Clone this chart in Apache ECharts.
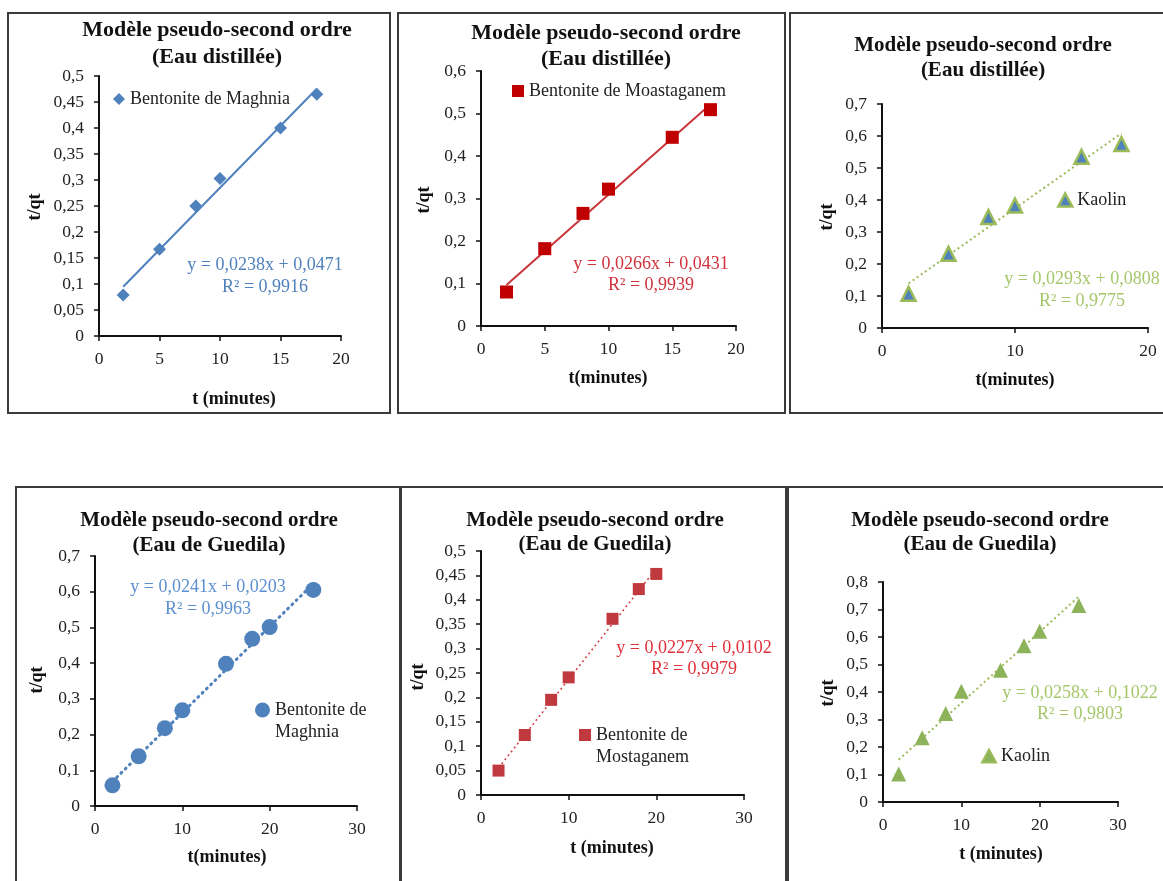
<!DOCTYPE html>
<html>
<head>
<meta charset="utf-8">
<title>Modèle pseudo-second ordre</title>
<script src="https://cdn.jsdelivr.net/npm/echarts@6/dist/echarts.min.js"></script>
<style>
  html, body { margin: 0; padding: 0; background: #ffffff; }
  #chart { width: 1163px; height: 881px; }
</style>
</head>
<body>
<div id="chart"></div>
<script>
// ---- Data: t (minutes) and t/qt for each adsorbent ----
const tDistillee = [2, 5, 8, 10, 15, 18];
const maghniaDistillee = [0.079, 0.167, 0.25, 0.303, 0.4, 0.465];
const mostaganemDistillee = [0.08, 0.182, 0.265, 0.322, 0.444, 0.509];
const kaolinDistillee = [0.107, 0.232, 0.347, 0.383, 0.535, 0.575];

const tGuedila = [2, 5, 8, 10, 15, 18, 20, 25];
const maghniaGuedila = [0.058, 0.139, 0.218, 0.268, 0.398, 0.468, 0.501, 0.605];
const tGuedilaMostaganem = [2, 5, 8, 10, 15, 18, 20];
const mostaganemGuedila = [0.05, 0.123, 0.195, 0.241, 0.361, 0.422, 0.453];
const kaolinGuedila = [0.102, 0.234, 0.322, 0.403, 0.479, 0.568, 0.621, 0.715];

// Linear fits (slope, intercept, R²) in panel order
const slopes = [0.0238, 0.0266, 0.0293, 0.0241, 0.0227, 0.0258];
const intercepts = [0.0471, 0.0431, 0.0808, 0.0203, 0.0102, 0.1022];
const rSquared = [0.9916, 0.9939, 0.9775, 0.9963, 0.9979, 0.9803];

// Titles, legend names and axis titles
const titleLine1 = 'Modèle pseudo-second ordre';
const waterNames = ['(Eau distillée)', '(Eau distillée)', '(Eau distillée)',
                    '(Eau de Guedila)', '(Eau de Guedila)', '(Eau de Guedila)'];
const seriesNames = ['Bentonite de Maghnia', 'Bentonite de Moastaganem', 'Kaolin',
                     'Bentonite de Maghnia', 'Bentonite de Mostaganem', 'Kaolin'];
const xTitles = ['t (minutes)', 't(minutes)', 't(minutes)', 't(minutes)', 't (minutes)', 't (minutes)'];
const yTitle = 't/qt';

// Axis ranges
const xMaxes = [20, 20, 20, 30, 30, 30];
const xSteps = [5, 5, 10, 10, 10, 10];
const yMaxes = [0.5, 0.6, 0.7, 0.7, 0.5, 0.8];
const ySteps = [0.05, 0.1, 0.1, 0.1, 0.05, 0.1];

const xValues = [tDistillee, tDistillee, tDistillee, tGuedila, tGuedilaMostaganem, tGuedila];
const yValues = [maghniaDistillee, mostaganemDistillee, kaolinDistillee,
                 maghniaGuedila, mostaganemGuedila, kaolinGuedila];

// ---- Layout and styling of the six panels ----
const SERIF = '"Liberation Serif", "Times New Roman", serif';
const BLUE = '#4F81BD', RED = '#C00000', GREEN = '#9BBB59';

const panels = [
  { box: [8, 13, 382, 400], grid: [99, 76, 242, 260], title: [217, 30, 57], tsize: 22,
    xt: [234, 399], yt: [35, 207], eq: [265, 265, 287], eqColor: '#4F81BD',
    leg: [113, 88], symbol: 'diamond', size: 13, icon: [12, 12],
    mark: { color: BLUE }, line: { color: BLUE, width: 2, type: 'solid' } },
  { box: [398, 13, 387, 400], grid: [481, 71, 255, 255], title: [606, 33, 59], tsize: 22,
    xt: [608, 378], yt: [424, 200], eq: [651, 264, 285], eqColor: '#D0313C',
    leg: [512, 80], symbol: 'rect', size: 13, icon: [12, 12],
    mark: { color: RED }, line: { color: '#C8353A', width: 2, type: 'solid' } },
  { box: [790, 13, 390, 400], grid: [882, 104, 266, 224], title: [983, 46, 71], tsize: 21,
    xt: [1015, 380], yt: [827, 217], eq: [1082, 279, 301], eqColor: '#A5C76A',
    leg: [1057, 189], symbol: 'triangle', size: 14, icon: [14, 13],
    mark: { color: BLUE, borderColor: GREEN, borderWidth: 2.5 },
    line: { color: GREEN, width: 2, type: [2, 3] } },
  { box: [16, 487, 384, 420], grid: [95, 556, 262, 250], title: [209, 521, 546], tsize: 21,
    xt: [227, 857], yt: [37, 680], eq: [208, 587, 609], eqColor: '#5B8FD0',
    leg: [255, 677], symbol: 'circle', size: 16, icon: [15, 15], twoLines: true,
    mark: { color: BLUE }, line: { color: BLUE, width: 3, type: [1, 5], cap: 'round' } },
  { box: [401, 487, 385, 420], grid: [481, 551, 263, 244], title: [595, 521, 545], tsize: 21,
    xt: [612, 848], yt: [418, 677], eq: [694, 648, 669], eqColor: '#E0303A',
    leg: [579, 702], symbol: 'rect', size: 12, icon: [12, 12], twoLines: true,
    mark: { color: '#C0393F' }, line: { color: '#D0393F', width: 1.5, type: [2, 3] } },
  { box: [788, 487, 390, 420], grid: [883, 582, 235, 220], title: [980, 521, 545], tsize: 21,
    xt: [1001, 854], yt: [828, 693], eq: [1080, 693, 714], eqColor: '#A5C76A',
    leg: [981, 745], symbol: 'triangle', size: 15, icon: [14, 13],
    mark: { color: '#8DB35A' }, line: { color: GREEN, width: 2, type: [2, 3] } }
];

const fmtComma = (v) => String(Math.round(v * 10000) / 10000).replace('.', ',');

const grids = [], xAxes = [], yAxes = [], series = [], legends = [], graphics = [];

panels.forEach((p, i) => {
  grids.push({ left: p.grid[0], top: p.grid[1], width: p.grid[2], height: p.grid[3] });

  const axisLine = { show: true, onZero: false, lineStyle: { color: '#111', width: 2 } };
  const axisTick = { show: true, inside: false, length: 5, lineStyle: { color: '#111', width: 1.5 } };
  xAxes.push({
    type: 'value', gridIndex: i, min: 0, max: xMaxes[i], interval: xSteps[i],
    axisLine, axisTick, splitLine: { show: false },
    axisLabel: { margin: 14, color: '#222', fontFamily: SERIF, fontSize: 17.5, formatter: fmtComma }
  });
  yAxes.push({
    type: 'value', gridIndex: i, min: 0, max: yMaxes[i], interval: ySteps[i],
    axisLine, axisTick, splitLine: { show: false },
    axisLabel: { margin: 15, color: '#222', fontFamily: SERIF, fontSize: 17.5, formatter: fmtComma }
  });

  // Measured points
  series.push({
    name: seriesNames[i], type: 'scatter', xAxisIndex: i, yAxisIndex: i,
    symbol: p.symbol, symbolSize: p.size, itemStyle: Object.assign({ opacity: 1 }, p.mark),
    data: xValues[i].map((x, k) => [x, yValues[i][k]]), z: 3
  });

  // Trend line y = a·x + b over the measured t range
  const xs = xValues[i];
  const x0 = Math.min(...xs), x1 = Math.max(...xs);
  series.push({
    name: 'Linéaire ' + (i + 1), type: 'line', xAxisIndex: i, yAxisIndex: i,
    symbol: 'none', silent: true, z: 2,
    lineStyle: { color: p.line.color, width: p.line.width, type: p.line.type, cap: p.line.cap || 'butt' },
    data: [[x0, slopes[i] * x0 + intercepts[i]], [x1, slopes[i] * x1 + intercepts[i]]]
  });

  // Legend; two-line names keep the marker level with the first line
  legends.push({
    left: p.leg[0], top: p.leg[1], orient: 'vertical', selectedMode: false, padding: 0,
    itemWidth: p.icon[0], itemHeight: p.icon[1], itemGap: 4,
    textStyle: { fontFamily: SERIF, fontSize: 18, color: '#222', lineHeight: 22 },
    formatter: p.twoLines ? (n) => '\n' + n.replace('de ', 'de\n') : (n) => n,
    data: [{ name: seriesNames[i], icon: p.symbol, itemStyle: Object.assign({}, p.mark) }]
  });

  // Panel frame
  graphics.push({
    type: 'rect', shape: { x: p.box[0], y: p.box[1], width: p.box[2], height: p.box[3] },
    style: { fill: 'none', stroke: '#3a3a3a', lineWidth: 2 }, silent: true
  });

  // Title (two centred lines)
  [titleLine1, waterNames[i]].forEach((txt, k) => {
    graphics.push({
      type: 'text', x: p.title[0], y: p.title[1 + k], silent: true,
      style: { text: txt, fill: '#111', font: 'bold ' + p.tsize + 'px ' + SERIF,
               textAlign: 'center', textVerticalAlign: 'middle' }
    });
  });

  // Axis titles
  graphics.push({
    type: 'text', x: p.xt[0], y: p.xt[1], silent: true,
    style: { text: xTitles[i], fill: '#111', font: 'bold 18px ' + SERIF,
             textAlign: 'center', textVerticalAlign: 'middle' }
  });
  graphics.push({
    type: 'text', x: p.yt[0], y: p.yt[1], rotation: Math.PI / 2, silent: true,
    style: { text: yTitle, fill: '#111', font: 'bold 18px ' + SERIF,
             textAlign: 'center', textVerticalAlign: 'middle' }
  });

  // Regression equation and R²
  const eq1 = 'y = ' + fmtComma(slopes[i]) + 'x + ' + fmtComma(intercepts[i]);
  const eq2 = 'R² = ' + fmtComma(rSquared[i]);
  [eq1, eq2].forEach((txt, k) => {
    graphics.push({
      type: 'text', x: p.eq[0], y: p.eq[1 + k], silent: true,
      style: { text: txt, fill: p.eqColor, font: '18px ' + SERIF,
               textAlign: 'center', textVerticalAlign: 'middle' }
    });
  });
});

const chart = echarts.init(document.getElementById('chart'), null, { renderer: 'canvas' });
chart.setOption({
  backgroundColor: '#ffffff',
  animation: false,
  grid: grids,
  xAxis: xAxes,
  yAxis: yAxes,
  legend: legends,
  series: series,
  graphic: graphics
});
</script>
</body>
</html>
